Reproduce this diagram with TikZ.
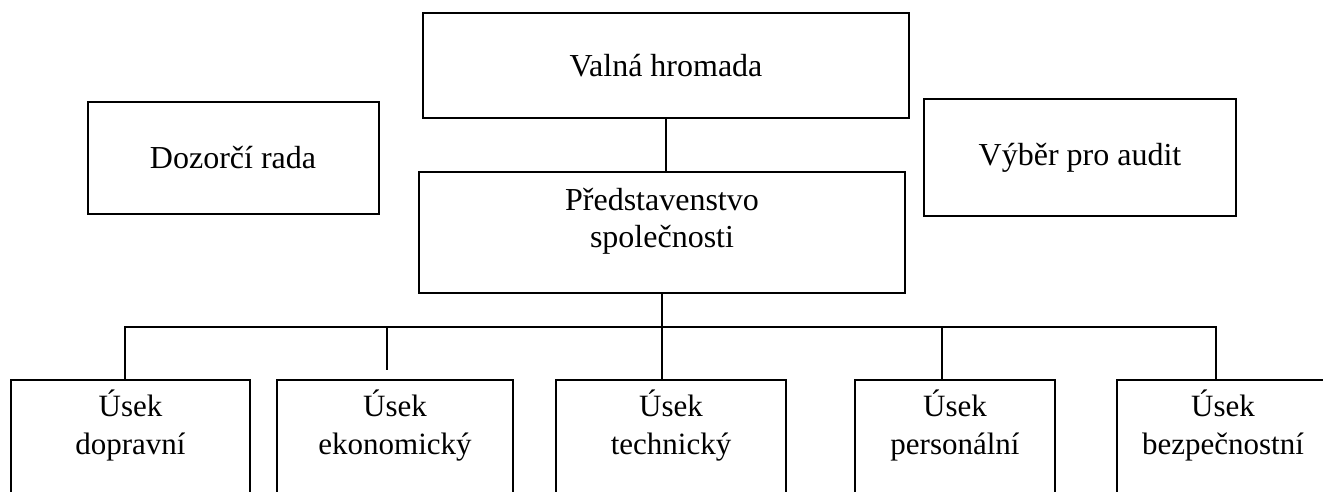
\documentclass[tikz,border=0pt]{standalone}
\usepackage{fontspec}
\setmainfont{Liberation Serif}
\usetikzlibrary{positioning}

\begin{document}
\begin{tikzpicture}[
  x=0.5pt, y=-0.5pt,
  unit/.style={draw=black, line width=1pt, inner sep=0pt, align=center,
               font=\fontsize{16}{18.5}\selectfont},
  dept/.style={draw=black, line width=1pt, anchor=north, inner xsep=0pt,
               inner ysep=5pt, text depth=80pt, align=center,
               font=\fontsize{15.5}{19}\selectfont},
  link/.style={line width=1pt},
]
\useasboundingbox (0,0) rectangle (1323,492);
\clip (0,0) rectangle (1323,492);

% ---- top level ----
\node[unit, minimum width=243pt, minimum height=52.5pt] (valna) at (666,65.5) {Valná hromada};
\node[unit, minimum width=145.5pt, minimum height=56pt] (dozor) at (233,158) {Dozorčí rada};
\node[unit, minimum width=156pt, minimum height=58.5pt] (audit) at (1080,157.5) {Výběr pro audit};
\node[unit, minimum width=243pt, minimum height=60.5pt, text depth=15pt] (pred) at (662,232.5)
  {Představenstvo\\společnosti};

% ---- departments (boxes run past the lower edge) ----
\foreach \n/\cx/\w/\t in {dop/130.5/119.5pt/dopravní, eko/395/118pt/ekonomický,
    tech/671/115pt/technický, pers/955/100pt/personální, bez/1223/106pt/bezpečnostní} {
  \node[dept, minimum width=\w] (\n) at (\cx,379) {Úsek\\\t};
}

% ---- connectors ----
\coordinate (busL) at (125,327);
\coordinate (busR) at (1216,327);
\coordinate (ekoTap) at (387,327);
\coordinate (persTap) at (942,327);
\draw[link] (valna.south) -- (valna.south |- pred.north);
\draw[link] (pred.south) -- (pred.south |- tech.north);
\draw[link] (dop.north -| busL) -- (busL) -- (busR) -- (bez.north -| busR);
\draw[link, shorten >=4.5pt] (ekoTap) -- (ekoTap |- eko.north);
\draw[link] (persTap) -- (persTap |- pers.north);

\end{tikzpicture}
\end{document}
